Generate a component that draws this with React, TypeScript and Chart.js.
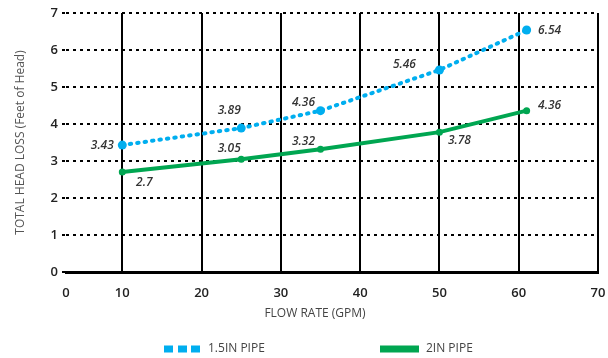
import React, { useEffect, useRef } from "react";
import { Chart, registerables } from "chart.js";

Chart.register(...registerables);

// ---- data ----
const FLOW_15IN = [10, 25, 35, 50, 61];
const LOSS_15IN = [3.43, 3.89, 4.36, 5.46, 6.54];
const FLOW_2IN = [10, 25, 35, 50, 61];
const LOSS_2IN = [2.7, 3.05, 3.32, 3.78, 4.36];
const SERIES_NAMES = ["1.5IN PIPE", "2IN PIPE"];
const X_TICK_LABELS = [0, 10, 20, 30, 40, 50, 60, 70];
const Y_TICK_VALUES = [0, 1, 2, 3, 4, 5, 6, 7];
const X_TITLE = "FLOW RATE (GPM)";
const Y_TITLE = "TOTAL HEAD LOSS (Feet of Head)";

// ---- style ----
const BLUE = "#00AEEF";
const GREEN = "#00A651";
const FONT = '"Open Sans", "DejaVu Sans", sans-serif';
const X_AXIS_START = 2.9; // the source axis draws its "0" closer than the other steps
const LABEL_OFFSETS = [
  [[-20, 0], [-12, -17], [-17, -8], [-35, -5], [23, 1]],
  [[22, 10], [-12, -11], [-17, -8], [20, 8], [23, -5]],
];

const pointLabels = {
  id: "pointLabels",
  afterDatasetsDraw(chart: any) {
    const ctx = chart.ctx;
    ctx.save();
    ctx.font = `italic 600 12px ${FONT}`;
    ctx.fillStyle = "#333";
    ctx.textAlign = "center";
    ctx.textBaseline = "middle";
    chart.data.datasets.forEach((ds: any, di: number) => {
      const meta = chart.getDatasetMeta(di);
      meta.data.forEach((pt: any, i: number) => {
        const off = LABEL_OFFSETS[di][i];
        ctx.fillText(String(ds.data[i].y), pt.x + off[0], pt.y + off[1]);
      });
    });
    ctx.restore();
  },
};

const legendAndTitle = {
  id: "legendAndTitle",
  afterDraw(chart: any) {
    const ctx = chart.ctx;
    ctx.save();
    // x title
    ctx.font = `12px ${FONT}`;
    ctx.fillStyle = "#444";
    ctx.textAlign = "center";
    ctx.textBaseline = "middle";
    ctx.fillText(X_TITLE, 315, 314);
    // legend
    const y = 349;
    const ds = chart.data.datasets;
    ctx.fillStyle = ds[0].borderColor;
    [164, 178, 191].forEach((x) => ctx.fillRect(x, y - 3.5, 9, 7));
    ctx.fillStyle = ds[1].borderColor;
    ctx.fillRect(380, y - 3.5, 39, 7);
    ctx.fillStyle = "#444";
    ctx.textAlign = "left";
    ctx.fillText(ds[0].label, 208, y);
    ctx.fillText(ds[1].label, 426, y);
    ctx.restore();
  },
};

const zeroPadding = (scale: any) => {
  scale.paddingLeft = 0;
  scale.paddingRight = 0;
  scale.paddingTop = 0;
  scale.paddingBottom = 0;
};

export default function App() {
  const ref = useRef<HTMLCanvasElement | null>(null);

  useEffect(() => {
    document.body.style.margin = "0";
    const canvas = ref.current;
    if (!canvas) return;
    const chart = new Chart(canvas, {
      type: "line",
      data: {
        datasets: [
          {
            label: SERIES_NAMES[0],
            data: FLOW_15IN.map((x, i) => ({ x, y: LOSS_15IN[i] })),
            borderColor: BLUE,
            backgroundColor: BLUE,
            borderWidth: 4,
            borderDash: [1.5, 6],
            borderCapStyle: "round",
            pointRadius: 4.5,
            pointBorderWidth: 0,
            pointBackgroundColor: BLUE,
            tension: 0,
          },
          {
            label: SERIES_NAMES[1],
            data: FLOW_2IN.map((x, i) => ({ x, y: LOSS_2IN[i] })),
            borderColor: GREEN,
            backgroundColor: GREEN,
            borderWidth: 4,
            pointRadius: 3.5,
            pointBorderWidth: 0,
            pointBackgroundColor: GREEN,
            tension: 0,
          },
        ],
      },
      options: {
        responsive: false,
        animation: false,
        layout: { padding: { top: 13, right: 10, bottom: 0, left: 0 } },
        plugins: {
          legend: { display: false },
          tooltip: { enabled: false },
        },
        scales: {
          x: {
            type: "linear",
            min: X_AXIS_START,
            max: 70,
            afterBuildTicks: (scale: any) => {
              scale.ticks = X_TICK_LABELS.map((v) => ({ value: v === 0 ? X_AXIS_START : v }));
            },
            afterFit: (scale: any) => {
              scale.height = 86;
              zeroPadding(scale);
            },
            ticks: {
              autoSkip: false,
              maxRotation: 0,
              padding: 13,
              color: "#222",
              font: { family: FONT, size: 13, weight: "600" },
              callback: (_v: any, i: number) => String(X_TICK_LABELS[i]),
            },
            grid: {
              drawTicks: false,
              lineWidth: 2,
              color: (c: any) => (c.index === 0 ? "rgba(0,0,0,0)" : "#000"),
            },
            border: { display: true, color: "#000", width: 3 },
          },
          y: {
            type: "linear",
            min: 0,
            max: 7,
            afterBuildTicks: (scale: any) => {
              scale.ticks = Y_TICK_VALUES.map((v) => ({ value: v }));
            },
            afterFit: (scale: any) => {
              scale.width = 66;
              zeroPadding(scale);
            },
            ticks: {
              padding: 4,
              color: "#222",
              font: { family: FONT, size: 13, weight: "600" },
            },
            grid: {
              lineWidth: 2,
              color: "#000",
              tickLength: 4,
              tickBorderDash: [3, 4],
            },
            border: { display: false, dash: [3, 4] },
            title: {
              display: true,
              text: Y_TITLE,
              color: "#555",
              font: { family: FONT, size: 12 },
              padding: { top: 13, bottom: 0 },
            },
          },
        },
      },
      plugins: [pointLabels, legendAndTitle],
    } as any);
    return () => chart.destroy();
  }, []);

  return (
    <div style={{ width: 608, height: 358, background: "#fff" }}>
      <canvas ref={ref} width={608} height={358} />
    </div>
  );
}
